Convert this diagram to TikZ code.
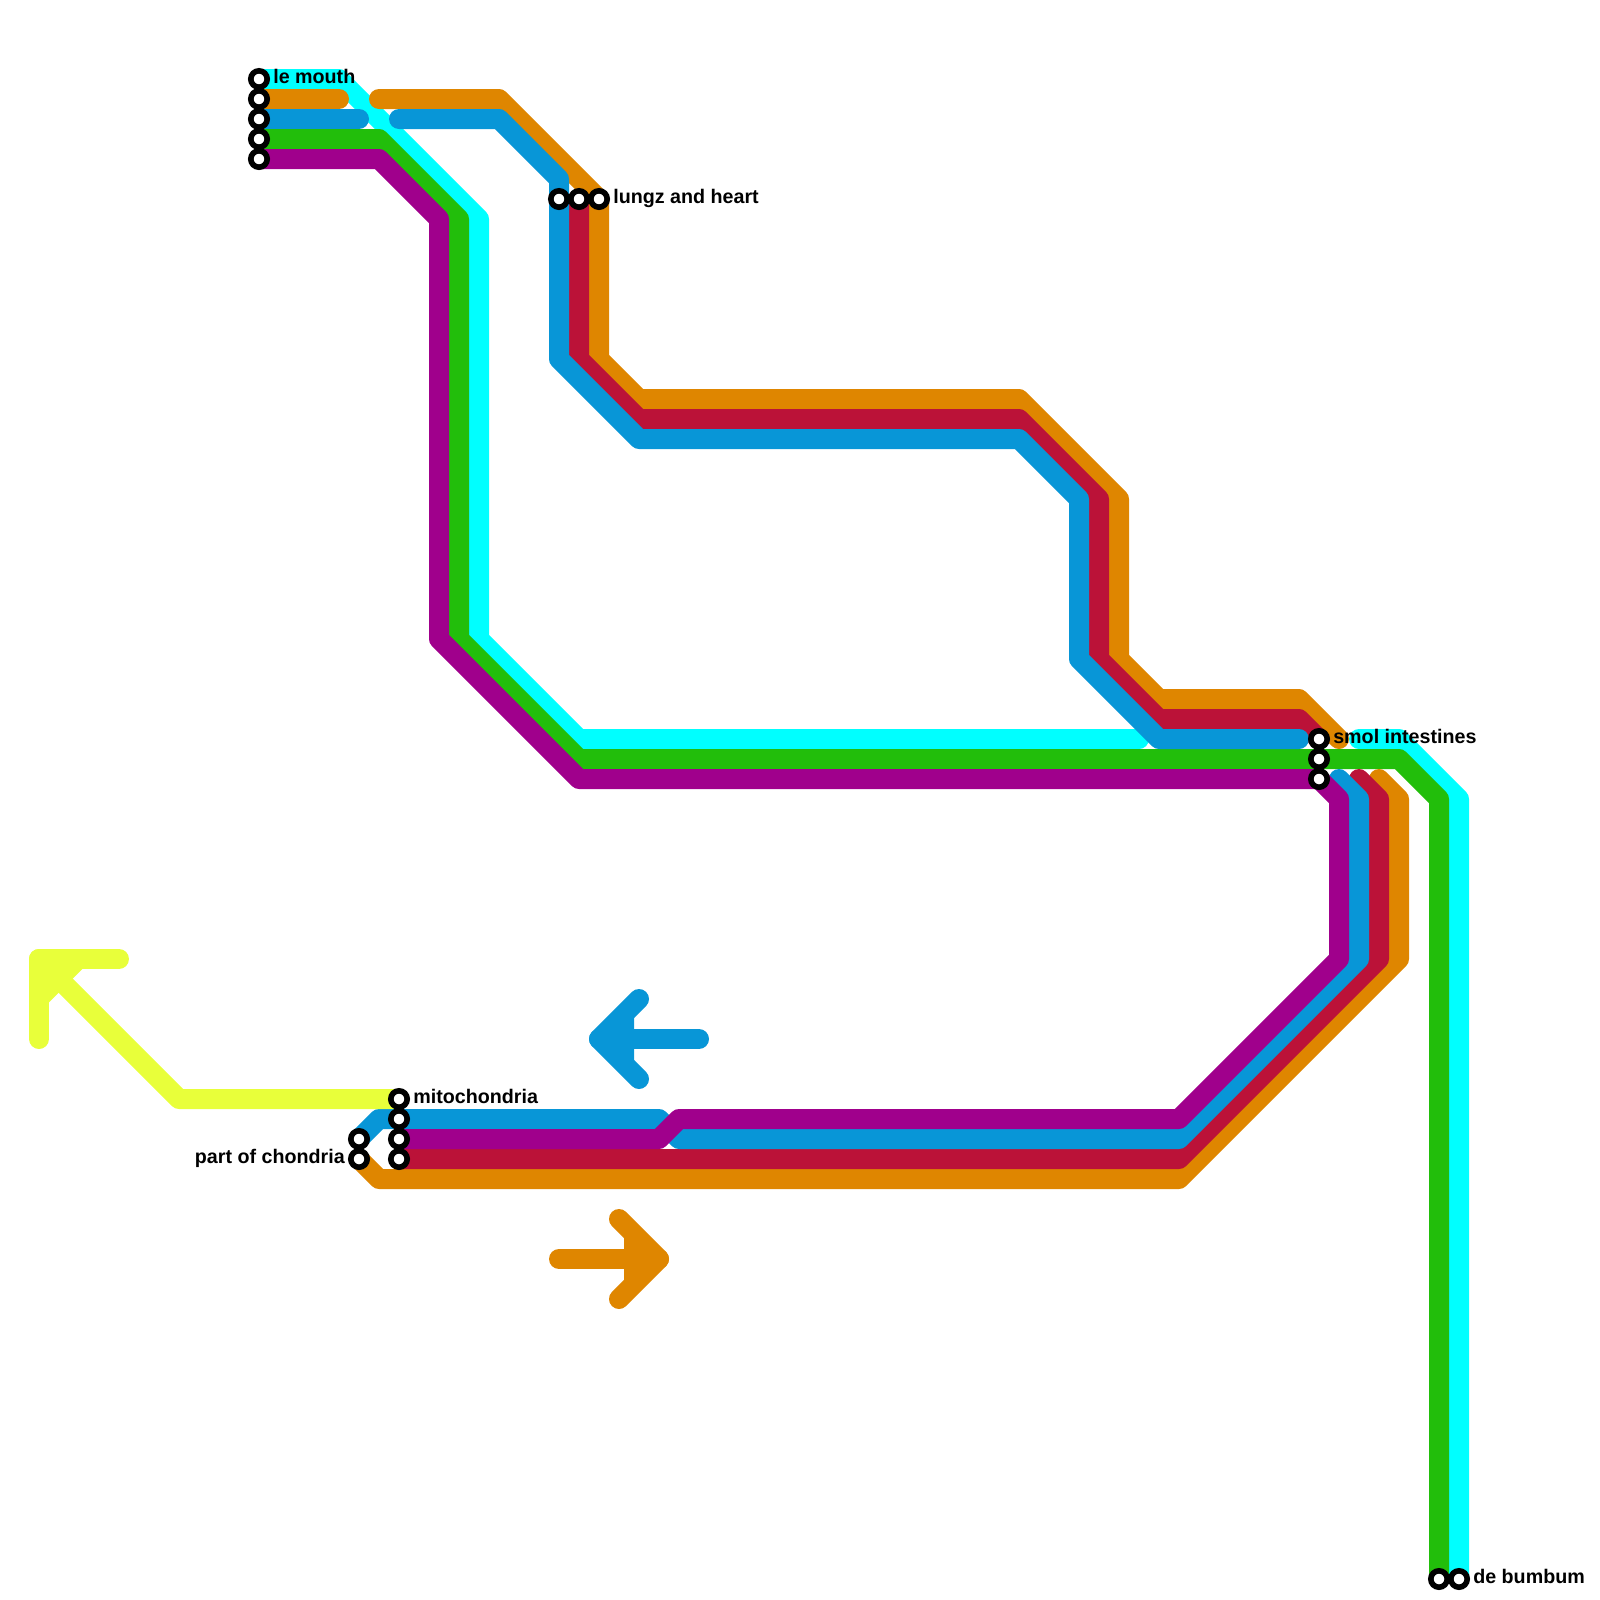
\documentclass[tikz,border=0pt]{standalone}
\usepackage{fontspec}
\setmainfont{Liberation Sans}
\definecolor{lcyan}{HTML}{00FFFF}
\definecolor{lorange}{HTML}{DF8600}
\definecolor{lblue}{HTML}{0896D7}
\definecolor{lgreen}{HTML}{22BE0B}
\definecolor{lpurple}{HTML}{A0008C}
\definecolor{lred}{HTML}{BB1238}
\definecolor{lyellow}{HTML}{E8FF3A}
\begin{document}
\begin{tikzpicture}[x=0.5cm,y=-0.5cm,
  line/.style={line width=0.5cm,line cap=round,line join=round},
  stop/.style={circle,draw=black,fill=white,line width=0.14cm,minimum size=0.41cm,inner sep=0pt},
  lbl/.style={font=\bfseries\fontsize{14pt}{16pt}\selectfont,inner sep=0pt}]
\useasboundingbox (0.05,0.05) rectangle (80.05,80.05);
\foreach \i in {1,...,5} \coordinate (mouth\i) at (13,3+\i);
\coordinate (lung1) at (28,10);
\coordinate (lung2) at (29,10);
\coordinate (lung3) at (30,10);
\coordinate (smol1) at (66,37);
\coordinate (smol2) at (66,38);
\coordinate (smol3) at (66,39);
\coordinate (bum1) at (72,79);
\coordinate (bum2) at (73,79);
\foreach \i in {1,...,4} \coordinate (mito\i) at (20,54+\i);
\coordinate (part1) at (18,57);
\coordinate (part2) at (18,58);
\draw[line,lcyan] (mouth1) -- (17,4) -- (24,11) -- (24,32) -- (29,37) -- (57,37);
\draw[line,lcyan] (68,37) -- (70,37) -- (73,40) -- (bum2);
\draw[line,lgreen] (mouth4) -- (19,7) -- (23,11) -- (23,32) -- (29,38) -- (smol2) -- (70,38) -- (72,40) -- (bum1);
\draw[line,lorange] (mouth2) -- (17,5);
\draw[line,lorange] (19,5) -- (25,5) -- (lung3) -- (30,18) -- (32,20) -- (51,20) -- (56,25) -- (56,33) -- (58,35) -- (65,35) -- (67,37);
\draw[line,lorange] (part2) -- (19,59) -- (59,59) -- (70,48) -- (70,40) -- (69,39);
\draw[line,lred] (lung2) -- (29,18) -- (32,21) -- (51,21) -- (55,25) -- (55,33) -- (58,36) -- (65,36) -- (smol1);
\draw[line,lred] (mito4) -- (59,58) -- (69,48) -- (69,40) -- (68,39);
\draw[line,lblue] (mouth3) -- (18,6);
\draw[line,lblue] (20,6) -- (25,6) -- (28,9) -- (lung1) -- (28,18) -- (32,22) -- (51,22) -- (54,25) -- (54,33) -- (58,37) -- (65,37);
\draw[line,lblue] (part1) -- (19,56) -- (33,56) -- (34,57) -- (59,57) -- (68,48) -- (68,40) -- (67,39);
\draw[line,lpurple] (mouth5) -- (19,8) -- (22,11) -- (22,32) -- (29,39) -- (smol3) -- (67,40) -- (67,48) -- (59,56) -- (34,56) -- (33,57) -- (mito3);
\draw[line,lyellow] (mito1) -- (9,55) -- (2,48);
\draw[line,lyellow] (6,48) -- (2,48) -- (2,52);
\fill[lyellow] (2,48) -- (4.67,48) -- (2,50.67) -- cycle;
\draw[line,lblue] (35,52) -- (30,52);
\draw[line,lblue] (32,50) -- (30,52) -- (32,54);
\fill[lblue] (30,52) -- (31.75,50.25) -- (31.75,53.75) -- cycle;
\draw[line,lorange] (28,63) -- (33,63);
\draw[line,lorange] (31,61) -- (33,63) -- (31,65);
\fill[lorange] (33,63) -- (31.25,61.25) -- (31.25,64.75) -- cycle;
\foreach \s in {mouth1,mouth2,mouth3,mouth4,mouth5,lung1,lung2,lung3,smol1,smol2,smol3,bum1,bum2,mito1,mito2,mito3,mito4,part1,part2}
  \node[stop] (\s-stop) at (\s) {};
\node[lbl,anchor=base west,xshift=0.35cm,yshift=-0.12cm] (mouthlabel) at (mouth1) {le mouth};
\node[lbl,anchor=base west,xshift=0.35cm,yshift=-0.12cm] (lunglabel) at (lung3) {lungz and heart};
\node[lbl,anchor=base west,xshift=0.35cm,yshift=-0.12cm] (smollabel) at (smol1) {smol intestines};
\node[lbl,anchor=base west,xshift=0.35cm,yshift=-0.12cm] (bumlabel) at (bum2) {de bumbum};
\node[lbl,anchor=base west,xshift=0.35cm,yshift=-0.12cm] (mitolabel) at (mito1) {mitochondria};
\node[lbl,anchor=base east,xshift=-0.35cm,yshift=-0.12cm] (partlabel) at (part2) {part of chondria};
\end{tikzpicture}
\end{document}
